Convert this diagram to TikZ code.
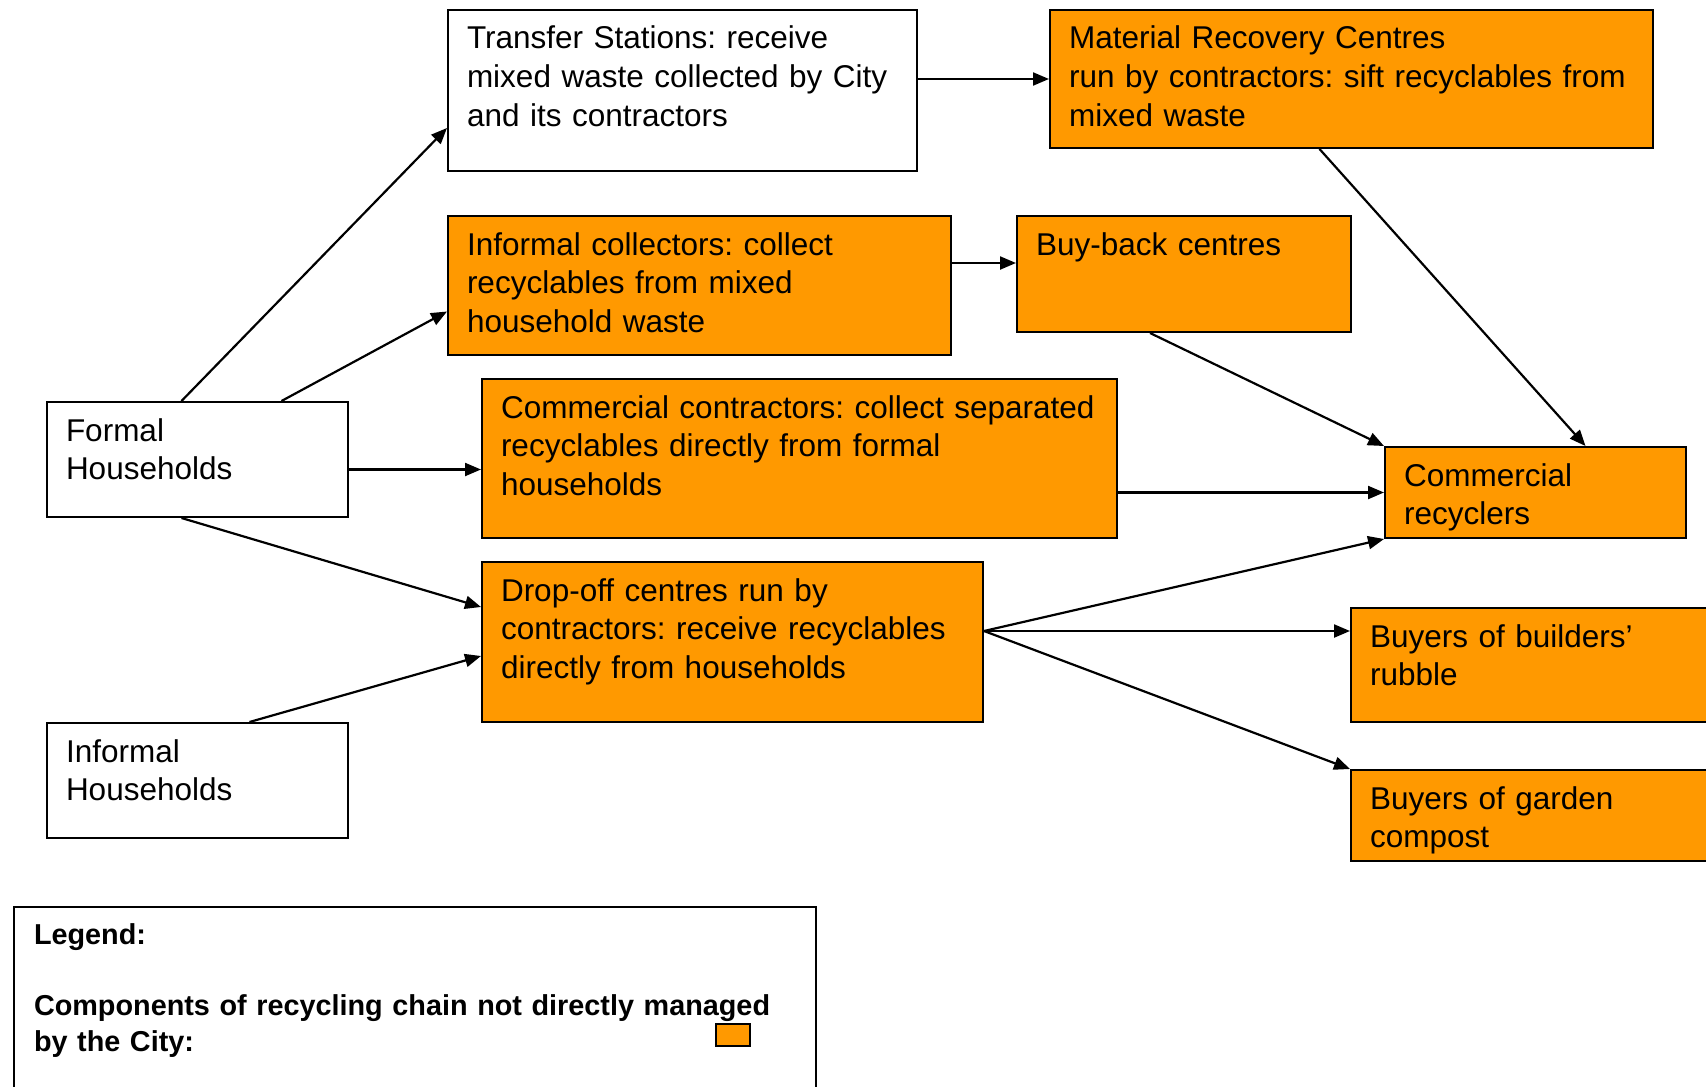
\documentclass[tikz,border=0pt]{standalone}
\usepackage{fontspec}
\setmainfont{Liberation Sans}
\usepackage{tikz}
\usetikzlibrary{
    arrows.meta,
    calc,
    positioning
}
\frenchspacing
\hyphenpenalty=10000
\definecolor{recycle}{HTML}{FF9900}
\tikzset{
    box/.style={draw, line width=1pt, anchor=north west, align=left,
        inner xsep=9.5pt, inner ysep=0pt, text height=19.5pt,
        font=\fontsize{15.75}{19.3}\selectfont},
    city/.style={box, fill=white},
    contr/.style={box, fill=recycle},
    >={Triangle[length=8pt, width=6.5pt]}
}

\begin{document}
\begin{tikzpicture}[x=0.5pt, y=-0.5pt, line width=1.1pt]
    \useasboundingbox (0, 0) rectangle (1706, 1086);
    % households
    \node[city, text width=131.5pt, text depth=38pt] (fh) at (46, 401) {Formal\\Households};
    \node[city, text width=131.5pt, text depth=38pt] (ih) at (46, 722) {Informal\\Households};
    % first stage
    \node[city, text width=215.5pt, text depth=61pt] (tr) at (447, 9)
        {Transfer Stations: receive\\mixed waste collected by City\\and its contractors};
    \node[contr, text width=232.5pt, text depth=50pt] (ic) at (447, 215)
        {Informal collectors: collect\\recyclables from mixed\\household waste};
    \node[contr, text width=298.5pt, text depth=60pt] (cc) at (481, 378)
        {Commercial contractors: collect separated\\recyclables directly from formal\\households};
    \node[contr, text width=231.5pt, text depth=60.5pt] (do) at (481, 561)
        {Drop-off centres run by\\contractors: receive recyclables\\directly from households};
    % second stage
    \node[contr, text width=282.5pt, text depth=49.5pt] (mrc) at (1049, 9)
        {Material Recovery Centres\\run by contractors: sift recyclables from\\mixed waste};
    \node[contr, text width=148pt, text depth=38.5pt] (bb) at (1016, 215) {Buy-back centres};
    \node[contr, text width=131.5pt, text depth=26pt] (cr) at (1384, 446) {Commercial\\recyclers};
    \node[contr, text width=166pt, text depth=37.5pt] (bu) at (1350, 607) {Buyers of builders’\\rubble};
    \node[contr, text width=166pt, text depth=26pt] (bg) at (1350, 769) {Buyers of garden\\compost};
    % legend
    \node[city, inner xsep=10pt, text width=381pt, text height=18.5pt, text depth=80pt,
        font=\fontsize{14.4}{18}\selectfont\bfseries] (lg) at (13, 906)
        {Legend:\\[17.5pt]Components of recycling chain not directly managed\\by the City:};
    \node[draw, fill=recycle, line width=1pt, anchor=north west, inner sep=0pt,
        minimum width=17pt, minimum height=11pt] (sw) at (715, 1023) {};

    \coordinate (fhout) at ([yshift=-5pt]fh.east);
    \coordinate (bbin) at ([yshift=5.5pt]bb.west);
    \coordinate (doout) at ([yshift=5.5pt]do.east);
    \draw
    ([xshift=-8pt]fh.north) edge[->] ([yshift=22pt]tr.south west)
    ([xshift=42pt]fh.north) edge[->] ([yshift=-13pt]ic.west)
    (fhout) edge[->] (fhout -| cc.west)
    ([xshift=-8pt]fh.south) edge[->] ([yshift=17.5pt]do.west)
    ([xshift=26pt]ih.north) edge[->] ([yshift=-7pt]do.west)
    (tr.east |- mrc.west) edge[->] (mrc.west)
    (ic.east |- bbin) edge[->] (bbin)
    ([xshift=-17pt]bb.south) edge[->] (cr.north west)
    ([xshift=-16pt]mrc.south) edge[->] ([xshift=25pt]cr.north)
    (cc.east |- cr.west) edge[->] (cr.west)
    (doout) edge[->] (cr.south west)
    (doout) edge[->] (doout -| bu.west)
    (doout) edge[->] (bg.north west);
\end{tikzpicture}
\end{document}
